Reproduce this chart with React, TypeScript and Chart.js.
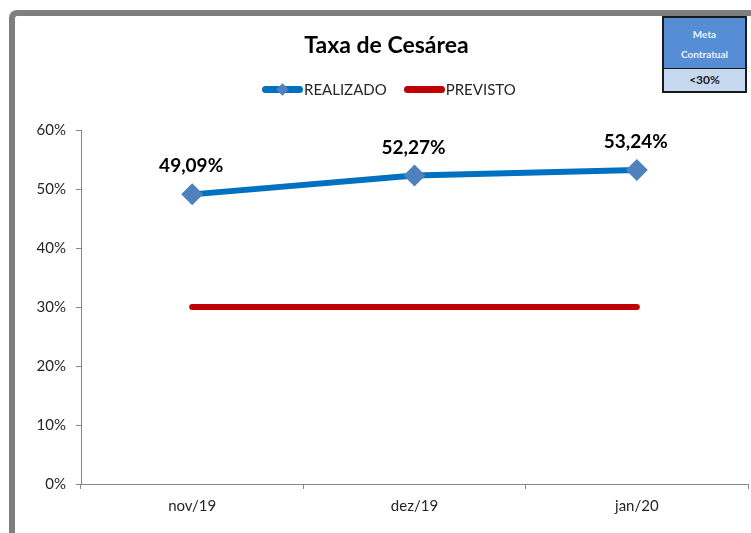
import React, { useEffect, useRef } from "react";
import { Chart, registerables } from "chart.js";

Chart.register(...registerables);

const categories = ["nov/19", "dez/19", "jan/20"];
const realizado = [49.09, 52.27, 53.24];
const previsto = [30, 30, 30];
const yTicks = [0, 10, 20, 30, 40, 50, 60];

const FONT = "Lato, 'Open Sans', sans-serif";

const dataLabels = {
  id: "dataLabels",
  afterDatasetsDraw(chart: any) {
    const ctx = chart.ctx;
    const meta = chart.getDatasetMeta(0);
    ctx.save();
    ctx.font = `bold 19px ${FONT}`;
    ctx.fillStyle = "#000000";
    ctx.textAlign = "center";
    ctx.textBaseline = "middle";
    meta.data.forEach((pt: any, i: number) => {
      const v = realizado[i];
      const txt = v.toFixed(2).replace(".", ",") + "%";
      ctx.fillText(txt, pt.x - 1, pt.y - 28);
    });
    ctx.restore();
  },
};

export default function App() {
  const ref = useRef<HTMLCanvasElement | null>(null);

  useEffect(() => {
    if (!ref.current) return;
    const chart = new Chart(ref.current, {
      type: "line",
      data: {
        labels: categories,
        datasets: [
          {
            label: "REALIZADO",
            data: realizado,
            borderColor: "#0070C0",
            borderWidth: 6,
            borderCapStyle: "round",
            borderJoinStyle: "round",
            pointStyle: "rectRot",
            pointRadius: 11,
            pointBackgroundColor: "#4F81BD",
            pointBorderColor: "#4F81BD",
            pointBorderWidth: 0,
            tension: 0,
            clip: false as any,
          },
          {
            label: "PREVISTO",
            data: previsto,
            borderColor: "#C00000",
            borderWidth: 6,
            borderCapStyle: "round",
            pointRadius: 0,
            tension: 0,
            clip: false as any,
          },
        ],
      },
      options: {
        animation: false,
        responsive: false,
        maintainAspectRatio: false,
        layout: { autoPadding: false, padding: { top: 130, right: 3, left: 0, bottom: 0 } },
        plugins: {
          legend: { display: false },
          title: { display: false },
          tooltip: { enabled: false },
        },
        scales: {
          x: {
            offset: true,
            grid: {
              offset: true,
              drawOnChartArea: false,
              drawTicks: true,
              tickLength: 5,
              color: "#868686",
            },
            border: { color: "#868686", width: 1 },
            ticks: {
              color: "#262626",
              font: { family: FONT, size: 15 },
              padding: 8,
            },
            afterFit: (s: any) => {
              s.height = 49;
            },
          },
          y: {
            min: 0,
            max: 60,
            afterBuildTicks: (s: any) => {
              s.ticks = yTicks.map((v) => ({ value: v }));
            },
            grid: {
              drawOnChartArea: false,
              drawTicks: true,
              tickLength: 5,
              color: "#868686",
            },
            border: { color: "#868686", width: 1 },
            ticks: {
              color: "#262626",
              font: { family: FONT, size: 15 },
              padding: 10,
              callback: (v: any) => `${v}%`,
            },
            afterFit: (s: any) => {
              s.width = 81;
            },
          },
        },
      },
      plugins: [dataLabels],
    });
    return () => chart.destroy();
  }, []);

  const legendItem = (color: string, diamond: boolean, text: string) => (
    <div style={{ display: "flex", alignItems: "center" }}>
      <div
        style={{
          position: "relative",
          width: 41,
          height: 7,
          borderRadius: 4,
          background: color,
        }}
      >
        {diamond && (
          <div
            style={{
              position: "absolute",
              left: 16,
              top: -1,
              width: 9,
              height: 9,
              background: "#4F81BD",
              transform: "rotate(45deg)",
            }}
          />
        )}
      </div>
      <span style={{ fontSize: 15, color: "#262626", marginLeft: 1 }}>{text}</span>
    </div>
  );

  return (
    <div
      style={{
        position: "fixed",
        left: 0,
        top: 0,
        width: 751,
        height: 533,
        background: "#ffffff",
        overflow: "hidden",
        fontFamily: FONT,
      }}
    >
      <canvas ref={ref} width={751} height={533} style={{ position: "absolute", left: 0, top: 0 }} />
      <div
        style={{
          position: "absolute",
          left: 9,
          top: 10,
          width: 900,
          height: 700,
          borderLeft: "6px solid #7F7F7F",
          borderTop: "6px solid #7F7F7F",
          borderTopLeftRadius: 8,
          pointerEvents: "none",
        }}
      />
      <div
        style={{
          position: "absolute",
          left: 0,
          width: 751,
          top: 30,
          textAlign: "center",
          paddingLeft: 22,
          boxSizing: "border-box",
          fontSize: 23,
          fontWeight: "bold",
          color: "#000",
          lineHeight: "28px",
        }}
      >
        Taxa de Cesárea
      </div>
      <div
        style={{
          position: "absolute",
          left: 262,
          top: 79,
          height: 20,
          display: "flex",
          alignItems: "center",
          gap: 17,
        }}
      >
        {legendItem("#0070C0", true, "REALIZADO")}
        {legendItem("#C00000", false, "PREVISTO")}
      </div>
      <div
        style={{
          position: "absolute",
          left: 662,
          top: 16,
          width: 85,
          height: 77,
          border: "2px solid #1a1a1a",
          boxSizing: "border-box",
          display: "flex",
          flexDirection: "column",
        }}
      >
        <div
          style={{
            height: 51,
            background: "#558ED5",
            color: "#EAF1FB",
            fontSize: 10,
            fontWeight: "bold",
            textAlign: "center",
            lineHeight: "20px",
            paddingTop: 6,
            boxSizing: "border-box",
            borderBottom: "1px solid #1a1a1a",
          }}
        >
          Meta
          <br />
          Contratual
        </div>
        <div
          style={{
            flex: 1,
            background: "#C6D9F1",
            color: "#1a1a1a",
            fontSize: 12,
            fontWeight: "bold",
            textAlign: "center",
            lineHeight: "22px",
          }}
        >
          &lt;30%
        </div>
      </div>
    </div>
  );
}
